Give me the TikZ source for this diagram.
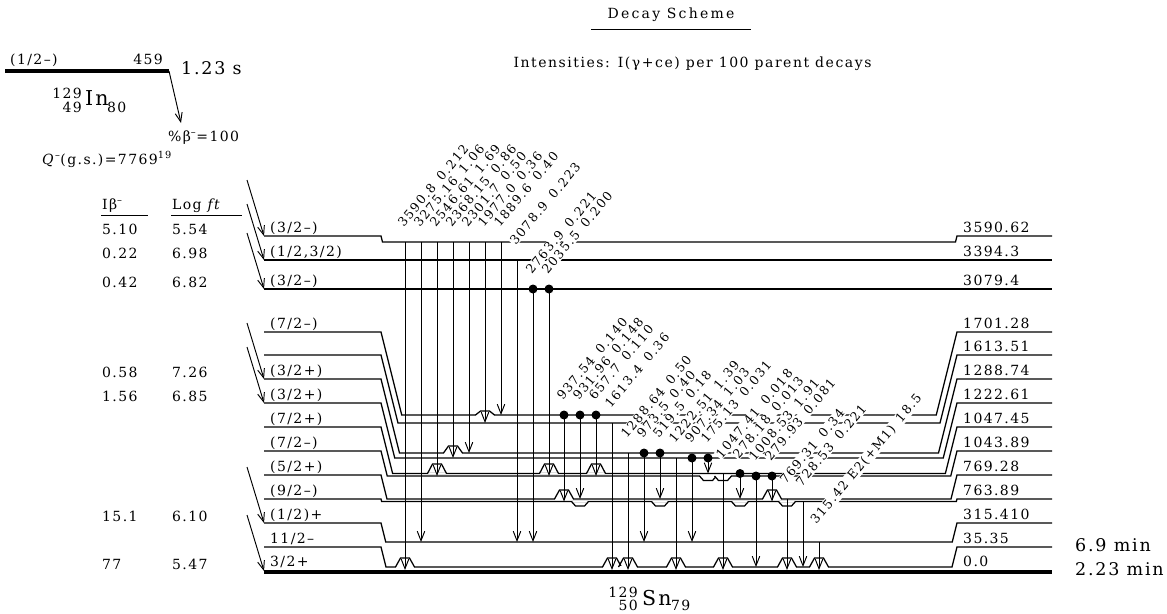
\documentclass[tikz,border=0pt]{standalone}
\usepackage{fontspec}
\setmainfont{DejaVu Serif}[LetterSpace=10]
\usetikzlibrary{arrows.meta}
\newcommand\fN{\fontsize{14}{16}\selectfont}
\newcommand\fG{\fontsize{12.5}{14}\selectfont\addfontfeature{LetterSpace=12}}
\newcommand\fB{\fontsize{17.5}{19}\selectfont}
\newcommand\fH{\fontsize{20.5}{22}\selectfont}
\begin{document}
\begin{tikzpicture}[x=1pt,y=-1pt,
  lev/.style={line width=1.25pt},
  gnd/.style={line width=4.3pt},
  rule/.style={line width=0.9pt},
  gam/.style={line width=0.95pt,-{Straight Barb[length=9.5pt,width=7.5pt]}},
  bet/.style={line width=0.95pt,-{Straight Barb[length=9pt,width=7pt]}},
  txt/.style={inner sep=0pt,anchor=base west,font=\fN},
  glab/.style={rotate=50,anchor=south west,inner sep=0.7pt,fill=white,font=\fG},
]
\useasboundingbox (0,0) rectangle (1167,613);

% title
\node[txt,anchor=base] (title) at (671,18.5) {\addfontfeature{LetterSpace=16}Decay Scheme};
\draw[rule] (591,29) -- (751,29);
\node[txt,anchor=base] (intens) at (692.5,67) {\addfontfeature{LetterSpace=11}Intensities: I(γ+ce) per 100 parent decays};

% parent
\draw[gnd] (5,71) coordinate (p0) -- (169,71) coordinate (p1);
\coordinate (pb) at (181,123);
\draw[bet] (p1) -- (pb);
\node[txt] (pj) at (10,64) {(1/2–)};
\node[txt,anchor=base east] (pe) at (163,64.5) {459};
\node[txt,font=\fB] (pt) at (181,74) {1.23 s};
\node[txt] (pbr) at (168,141) {\%β\textsuperscript{–}=100};
\node[txt] (q) at (42,164) {\textit{Q}\textsuperscript{–}(g.s.)=7769\textsuperscript{19}};
\node[txt,anchor=base east] (inA) at (82,98) {129};
\node[txt,anchor=base east] (inZ) at (82,112) {49};
\node[txt,font=\fH] (inS) at (85,105) {In};
\node[txt] (inN) at (107,112) {80};

% headers
\node[txt] (hI) at (102,209) {Iβ\textsuperscript{–}};
\draw[rule] (101,215) -- (148,215);
\node[txt] (hL) at (172,209) {Log \textit{ft}};
\draw[rule] (171,215) -- (242,215);

% levels
\foreach \ly/\my in {236/242,260/260,289/289,332/415,355/423,379/453,403/458,427/473.5,451/476,475/499,499/501.5,523/542,547/567}{
  \draw[lev] (264,\ly) -- (381,\ly) -- ({381+0.25*(\my-\ly)},\my) -- ({957-0.25*(\my-\ly)},\my) -- (957,\ly) -- (1052,\ly);
}
\draw[gnd] (264,572) -- (1052,572);

% bumps over arrowheads
\foreach \x/\y/\t in {405/567/558,612/567/558,628/567/558,676/567/558,723/567/558,787/567/558,819/567/558,
  437/473.5/464,549/473.5/464,596/473.5/464,453/453/446,485/415/411,564/499/490,772/499/490}{
  \fill[white] (\x-9,\y-0.9) rectangle (\x+9,\y+0.9);
  \draw[lev] (\x-9.5,\y) -- (\x-4.5,\t) -- (\x+4.5,\t) -- (\x+9.5,\y);
}
% dips
\foreach \x/\y in {580/501.5,660/501.5,740/501.5,787/501.5,708/476,723/476}{
  \fill[white] (\x-8,\y-0.9) rectangle (\x+8,\y+0.9);
  \draw[lev] (\x-8.5,\y) -- (\x-4.5,\y+4.5) -- (\x+4.5,\y+4.5) -- (\x+8.5,\y);
}

% level labels left
\node[txt] (jA) at (270,232.5) {(3/2–)};
\node[txt] (jB) at (270,256.5) {(1/2,3/2)};
\node[txt] (jC) at (270,285.5) {(3/2–)};
\node[txt] (jD) at (270,328.5) {(7/2–)};
\node[txt] (jF) at (270,375.5) {(3/2+)};
\node[txt] (jG) at (270,399.5) {(3/2+)};
\node[txt] (jH) at (270,423.5) {(7/2+)};
\node[txt] (jI) at (270,447.5) {(7/2–)};
\node[txt] (jJ) at (270,471.5) {(5/2+)};
\node[txt] (jK) at (270,495.5) {(9/2–)};
\node[txt] (jL) at (270,519.5) {(1/2)+};
\node[txt] (jM) at (270,543.5) {11/2–};
\node[txt] (jN) at (270,566) {3/2+};
% level labels right
\node[txt] (eA) at (963,232.5) {3590.62};
\node[txt] (eB) at (963,256.5) {3394.3};
\node[txt] (eC) at (963,285.5) {3079.4};
\node[txt] (eD) at (963,328.5) {1701.28};
\node[txt] (eE) at (963,351.5) {1613.51};
\node[txt] (eF) at (963,375.5) {1288.74};
\node[txt] (eG) at (963,399.5) {1222.61};
\node[txt] (eH) at (963,423.5) {1047.45};
\node[txt] (eI) at (963,447.5) {1043.89};
\node[txt] (eJ) at (963,471.5) {769.28};
\node[txt] (eK) at (963,495.5) {763.89};
\node[txt] (eL) at (963,519.5) {315.410};
\node[txt] (eM) at (963,543.5) {35.35};
\node[txt] (eN) at (963,566) {0.0};
\node[txt,font=\fB] (t1) at (1075,551.5) {6.9 min};
\node[txt,font=\fB] (t2) at (1075,575) {2.23 min};

% beta feeding
\foreach \ly/\ib/\lf in {236/5.10/5.54,260/0.22/6.98,289/0.42/6.82,379/0.58/7.26,403/1.56/6.85,523/15.1/6.10}{
  \draw[bet] (247,\ly-56) -- (264,\ly);
  \node[txt] at (102,\ly-1.5) {\ib};
  \node[txt] at (172,\ly-1.5) {\lf};
}
\draw[bet] (247,515) -- (264,571);
\node[txt] (ibN) at (102,569.5) {77};
\node[txt] (lfN) at (172,569.5) {5.47};

% daughter
\node[txt,anchor=base east] (snA) at (638,597) {129};
\node[txt,anchor=base east] (snZ) at (638,610.5) {50};
\node[txt,font=\fH] (snS) at (642,605.5) {Sn};
\node[txt] (snN) at (671,610.5) {79};

% gammas
\def\gammas{405/242/570/0/3590.8/0.212, 421/242/542/0/3275.16/1.06, 437/242/476/0/2546.61/1.69,
 453/242/458/0/2368.15/0.86, 469/242/453/0/2301.7/0.50, 485/242/423/0/1977.0/0.36,
 501/242/415/0/1889.6/0.40, 517/260/542/0/3078.9/0.223, 533/289/542/1/2763.9/0.221,
 549/289/476/1/2035.5/0.200, 564/415/501.5/1/937.54/0.140, 580/415/499/1/931.96/0.148,
 596/415/476/1/657.7/0.110, 612/423/570/0/1613.4/0.36, 628/453/570/0/1288.64/0.50,
 644/453/542/1/973.5/0.40, 660/453/499/1/519.5/0.18, 676/458/570/0/1222.51/1.39,
 692/458/542/1/907.34/1.03, 708/458/473.5/1/175.13/0.031, 723/473.5/570/0/1047.41/0.018,
 740/473.5/499/1/278.18/0.013, 756/476/567/1/1008.53/1.91, 772/476/501.5/1/279.93/0.081,
 787/499/570/0/769.31/0.34, 803/501.5/567/0/728.53/0.221}
\foreach \x/\ys/\ye/\dt/\e/\i in \gammas{
  \draw[gam] (\x,\ys) -- (\x,\ye);
  \ifnum\dt=1 \fill (\x,\ys) circle (4.5); \fi
}
\draw[gam] (819,542) -- (819,570);
\foreach \x/\ys/\ye/\dt/\e/\i in \gammas{
  \node[glab] at (\x-1,\ys-13) {\e\hspace{9pt}\i};
}
\node[glab] (g31) at (818,527) {315.42\hspace{6pt}E2(+M1)\hspace{8pt}18.5};
\end{tikzpicture}
\end{document}
